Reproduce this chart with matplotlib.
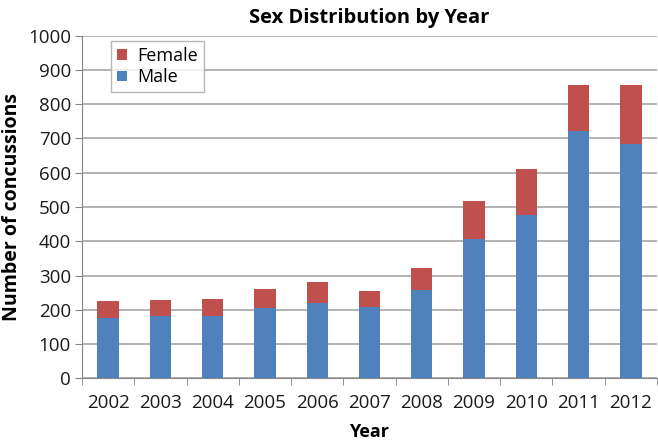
import numpy as np
import matplotlib.pyplot as plt

# Werte
years = ["2002", "2003", "2004", "2005", "2006", "2007", "2008", "2009", "2010", "2011", "2012"]
male = [175, 183, 183, 206, 221, 209, 259, 408, 477, 722, 685]
total = [225, 228, 232, 260, 282, 255, 323, 517, 612, 857, 857]
female = [t - m for t, m in zip(total, male)]

plt.rcParams['font.family'] = ['Open Sans', 'DejaVu Sans']

fig = plt.figure(figsize=(6.58, 4.40), dpi=100)
ax = fig.add_axes([82 / 658, 1 - 378.3 / 440, 575 / 658, 342.6 / 440])

x = np.arange(len(years))
ax.bar(x, male, width=0.41, color='#4F81BD', label='Male', zorder=3)
ax.bar(x, female, width=0.41, bottom=male, color='#C0504D', label='Female', zorder=3)

ax.set_xlim(-0.5, len(years) - 0.5)
ax.set_ylim(0, 1000)
ax.set_yticks(range(0, 1001, 100))
ax.yaxis.grid(True, color='#A6A6A6', linewidth=1.2, zorder=0)

# Striche zwischen den Kategorien
ax.set_xticks(x)
ax.set_xticklabels(years)
ax.set_xticks(np.arange(-0.5, len(years)), minor=True)
ax.tick_params(axis='x', which='major', length=0, pad=11, labelsize=13.5, colors='#1a1a1a')
ax.tick_params(axis='x', which='minor', length=5, color='#868686')
ax.tick_params(axis='y', length=5, color='#868686', labelsize=13.5, colors='#1a1a1a', pad=3)

for s in ['top', 'right']:
    ax.spines[s].set_visible(False)
for s in ['left', 'bottom']:
    ax.spines[s].set_color('#868686')

ax.set_title('Sex Distribution by Year', fontsize=14.5, fontweight='bold', pad=9)
ax.set_xlabel('Year', fontsize=13, fontweight='bold', labelpad=8)
ax.set_ylabel('Number of concussions', fontsize=14, fontweight='bold', labelpad=4)

handles, labels = ax.get_legend_handles_labels()
leg = ax.legend(handles[::-1], labels[::-1], loc='upper left', bbox_to_anchor=(0.035, 1.01),
                fontsize=13, frameon=True, fancybox=False, edgecolor='#A6A6A6',
                handlelength=0.55, handleheight=0.55, handletextpad=0.6, borderpad=0.3,
                labelspacing=0.2)
leg.get_frame().set_linewidth(1.0)

fig.savefig('out.png', dpi=100)
